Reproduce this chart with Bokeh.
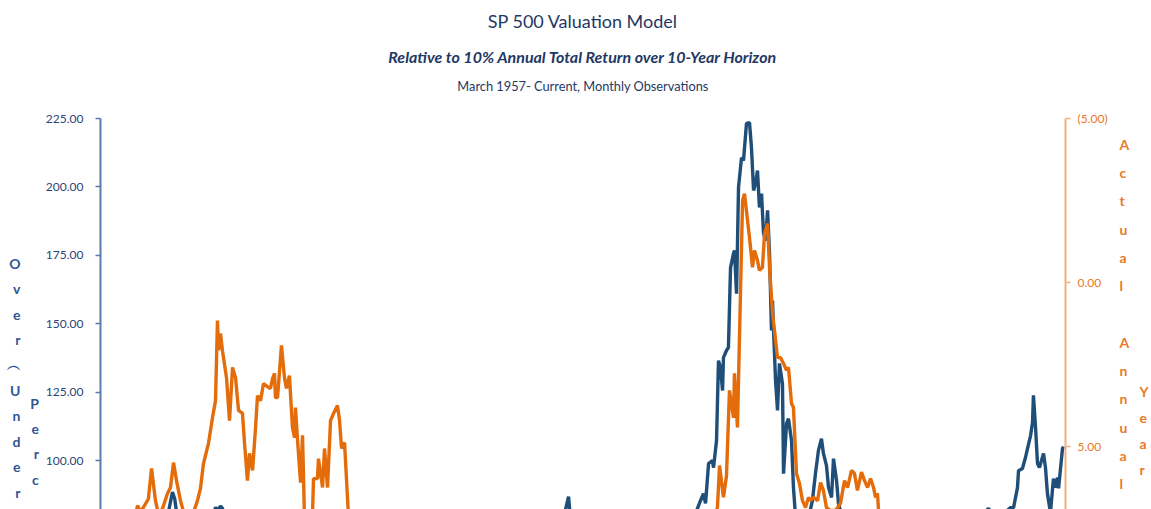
from bokeh.plotting import figure
from bokeh.models import (Range1d, LinearAxis, FixedTicker, Title,
                          CustomJSTickFormatter)
from bokeh.embed import file_html
from bokeh.resources import INLINE

# ---------------- data ----------------
# Over/(Under) valuation, percent  (left axis)
val_years = [1957.17, 1958.0, 1959.0, 1960.0, 1961.0, 1961.5, 1961.75, 1961.95, 1962.1, 1962.25,
             1962.5, 1963.0, 1964.0, 1964.7, 1964.81, 1964.9, 1965.14, 1965.27, 1965.5, 1966.5,
             1968.0, 1969.0, 1970.5, 1972.8, 1974.8, 1978.0, 1981.0, 1982.5, 1985.0, 1987.0,
             1987.8, 1988.26, 1988.5, 1990.0, 1992.0, 1994.0, 1995.5, 1996.5,
             1997.03, 1997.22, 1997.36, 1997.56, 1997.82, 1997.89, 1998.09, 1998.22, 1998.35, 1998.49,
             1998.55, 1998.75, 1998.88, 1999.02, 1999.22, 1999.28, 1999.42, 1999.55, 1999.75, 1999.88,
             2000.08, 2000.28, 2000.41, 2000.55, 2000.68, 2000.81, 2000.94, 2001.08, 2001.21, 2001.34,
             2001.48, 2001.61, 2001.74, 2001.81, 2001.87, 2002.01, 2002.14, 2002.27, 2002.47, 2002.54,
             2002.74, 2002.87, 2003.07, 2003.20, 2003.33, 2003.7, 2004.2, 2004.46, 2004.66, 2004.86,
             2005.06, 2005.19, 2005.39, 2005.53, 2005.73, 2005.86, 2006.06, 2006.19, 2006.5, 2007.5,
             2008.3, 2009.2, 2010.5, 2012.0, 2013.5, 2015.0, 2016.16, 2016.6, 2017.62, 2017.82,
             2018.08, 2018.15, 2018.41, 2018.61, 2018.75, 2018.95, 2019.08, 2019.14, 2019.28, 2019.41,
             2019.54, 2019.81, 2019.94, 2020.07, 2020.27, 2020.47, 2020.61, 2020.74, 2020.81, 2021.07,
             2021.14]
val_pct = [35, 25, 60, 55, 62, 76, 83, 88.5, 86, 80,
           45, 58, 72, 80, 83.0, 81.5, 83.3, 82.5, 78, 60,
           62, 55, 20, 35, -30, -20, -35, -40, 0, 60,
           76, 86.8, 72, 45, 55, 52, 65, 78,
           85.4, 87.9, 84.3, 98.9, 100.0, 97.4, 107.3, 136.5, 134.0, 125.6,
           137.6, 140.2, 141.3, 170.5, 175.7, 176.8, 161.0, 199.8, 210.7, 209.6,
           223.2, 223.5, 214.4, 198.7, 201.2, 206.0, 192.5, 197.6, 183.0, 180.4,
           191.4, 175.7, 147.5, 158.5, 148.6, 129.2, 118.3, 135.5, 128.1, 95.2,
           113.5, 115.3, 107.3, 90.1, 80, 76, 79, 85.4, 95.2, 103.7,
           108.0, 102.6, 98.2, 90.1, 86.5, 100.7, 92.7, 84.3, 78, 74,
           50, 5, 35, 40, 62, 76, 82.5, 78, 82.8, 82.8,
           90.1, 96.3, 97.1, 101.1, 104.4, 109.1, 113.9, 123.8, 112.1, 98.9,
           97.4, 102.6, 97.4, 87.9, 81.0, 93.4, 90.1, 93.8, 89.8, 104.4,
           105.1]

# Actual 10-year annual return, percent (right axis, inverted)
ret_years = [1957.17, 1958.3, 1959.3, 1959.63, 1959.83, 1960.35, 1960.56, 1960.82, 1961.02, 1961.29,
             1961.62, 1961.82, 1962.02, 1962.22, 1962.48, 1962.82, 1963.28, 1963.61, 1963.81, 1964.01,
             1964.34, 1964.61, 1964.81, 1964.94, 1965.01, 1965.14, 1965.27, 1965.54, 1965.74, 1965.94,
             1966.14, 1966.34, 1966.60, 1966.74, 1966.93, 1967.07, 1967.27, 1967.47, 1967.60, 1967.80,
             1968.00, 1968.33, 1968.46, 1968.60, 1968.73, 1968.79, 1968.93, 1969.19, 1969.39, 1969.52,
             1969.72, 1969.92, 1970.06, 1970.12, 1970.26, 1970.46, 1970.59, 1970.72, 1971.0, 1971.25,
             1971.32, 1971.58, 1971.65, 1971.92, 1972.05, 1972.25, 1972.45, 1972.65, 1972.91, 1973.05,
             1973.18, 1973.38, 1973.64, 1974.2, 1975.5, 1978.0, 1980.5, 1982.5, 1985.0, 1988.0,
             1990.5, 1993.0, 1995.0, 1996.5, 1997.8, 1998.15, 1998.29, 1998.55, 1998.75, 1998.95,
             1999.22, 1999.28, 1999.48, 1999.62, 1999.82, 1999.95, 2000.15, 2000.28, 2000.48, 2000.61,
             2000.81, 2000.94, 2001.14, 2001.28, 2001.48, 2001.61, 2001.81, 2001.94, 2002.14, 2002.34,
             2002.54, 2002.74, 2002.87, 2003.07, 2003.20, 2003.40, 2003.60, 2003.80, 2004.00, 2004.20,
             2004.33, 2004.53, 2004.80, 2005.00, 2005.19, 2005.39, 2005.66, 2005.99, 2006.32, 2006.59,
             2006.79, 2007.06, 2007.25, 2007.45, 2007.72, 2007.92, 2008.12, 2008.32, 2008.52, 2008.65,
             2008.78, 2008.85, 2009.4, 2010.2, 2011.1]
ret_pct = [11.5, 9.0, 7.5, 6.80, 7.0, 6.6, 5.67, 6.65, 7.05, 6.89,
           6.43, 6.25, 5.49, 6.04, 6.65, 7.2, 7.1, 6.65, 6.28, 5.52,
           4.91, 4.12, 3.60, 1.16, 2.07, 1.55, 2.07, 2.90, 4.21, 2.59,
           2.90, 3.90, 3.99, 4.91, 6.04, 5.21, 5.73, 4.42, 3.45, 3.60,
           3.08, 3.20, 3.23, 2.93, 2.77, 3.51, 3.51, 1.92, 2.90, 3.23,
           2.84, 4.42, 4.73, 3.81, 4.82, 6.10, 4.66, 7.2, 7.8, 7.1,
           5.98, 5.98, 5.37, 6.25, 5.06, 6.25, 4.21, 3.99, 3.75, 4.21,
           5.06, 4.88, 7.1, 9.5, 11.0, 14.5, 17.0, 18.5, 15.0, 17.5,
           18.5, 14.0, 11.5, 8.5, 7.3, 6.86, 5.58, 6.55, 5.9, 3.29,
           4.12, 2.77, 4.42, 1.55, -2.50, -2.71, -1.89, -1.37, -0.46, -0.98,
           -0.67, -0.37, -0.46, -1.49, -1.80, -0.46, 0.95, 1.46, 2.29, 2.29,
           2.47, 2.68, 2.59, 3.69, 3.81, 5.82, 6.13, 6.65, 6.86, 6.55,
           6.65, 6.55, 6.65, 6.10, 6.34, 6.86, 6.95, 6.95, 6.74, 6.04,
           6.25, 5.73, 5.82, 6.34, 5.78, 6.04, 6.25, 5.98, 6.25, 6.55,
           6.43, 6.95, 8.8, 9.5, 10.5]

left_ticks = [0, 25, 50, 75, 100, 125, 150, 175, 200, 225]
right_ticks = [-5, 0, 5, 10]

title = "SP 500 Valuation Model"
subtitle = "Relative to 10% Annual Total Return over 10-Year Horizon"
subtitle2 = "March 1957- Current, Monthly Observations"
left_title_1 = "Over\ufe35Under"
left_title_2 = "Perc"
right_title_1 = ["Actual", "Annual"]
right_title_2 = "Year"

# ---------------- layout ----------------
BLUE = "#1F4E79"
ORANGE = "#E46C0A"
NAVY = "#1F3864"
LBLUE = "#2F5597"
LORANGE = "#E8792A"
FONT = "Lato"
NB = "\u00a0"

X0, X1 = 1957.17, 2021.27          # frame left/right
Y0, Y1 = 82.1, 225.0               # frame bottom/top (left axis)
R0, R1 = 6.92, -5.0                # right axis, inverted

W, H = 1151, 509
ML, MT = 100, 118
FW = 965

p = figure(width=W, height=H, output_backend="svg", toolbar_location=None,
           x_range=Range1d(X0, X1), y_range=Range1d(Y0, Y1),
           min_border_left=ML, min_border_right=W - ML - FW,
           min_border_top=MT, min_border_bottom=0,
           x_axis_location=None, y_axis_location="left", title_location=None)
p.extra_y_ranges = {"ret": Range1d(R0, R1)}
p.outline_line_color = None
p.xgrid.visible = False
p.ygrid.visible = False
p.background_fill_color = "white"
p.border_fill_color = "white"

fmt_code = "return tick < 0 ? '(' + Math.abs(tick).toFixed(2) + ')' : tick.toFixed(2)"


def stack(chars, lead):
    # vertical (stacked) text, one character per line
    return "\n".join([NB] * lead + list(chars))


def bare_axis(ax):
    ax.ticker = FixedTicker(ticks=[])
    ax.axis_line_color = None
    ax.major_tick_out = 0
    ax.major_tick_in = 0
    ax.minor_tick_out = 0
    ax.minor_tick_in = 0
    ax.major_label_text_font_size = "0px"
    ax.major_label_standoff = 0


def style_label(ax, color, lh, standoff):
    ax.axis_label_orientation = "horizontal"
    ax.axis_label_text_font = FONT
    ax.axis_label_text_font_size = "14px"
    ax.axis_label_text_font_style = "bold"
    ax.axis_label_text_color = color
    ax.axis_label_text_line_height = lh
    ax.axis_label_standoff = standoff


# left axis
ya = p.yaxis[0]
ya.ticker = FixedTicker(ticks=left_ticks)
ya.formatter = CustomJSTickFormatter(code=fmt_code)
ya.axis_line_color = "#5A7AB0"
ya.axis_line_width = 2
ya.major_tick_line_color = "#5A7AB0"
ya.major_tick_line_width = 1.5
ya.major_tick_out = 5
ya.major_tick_in = 0
ya.minor_tick_line_color = None
ya.major_label_standoff = 12
ya.major_label_text_font = FONT
ya.major_label_text_font_size = "12px"
ya.major_label_text_color = "#2B4578"
ya.axis_label = stack(left_title_2, 10)
style_label(ya, LBLUE, 1.497, 4)

# outer left title column
ya2 = LinearAxis(axis_label=stack(left_title_1, 5))
bare_axis(ya2)
style_label(ya2, LBLUE, 1.497, 7)
p.add_layout(ya2, "left")

# right axis
ra = LinearAxis(y_range_name="ret")
ra.ticker = FixedTicker(ticks=right_ticks)
ra.formatter = CustomJSTickFormatter(code=fmt_code)
ra.axis_line_color = "#F5B07A"
ra.axis_line_width = 2
ra.major_tick_line_color = "#F5B07A"
ra.major_tick_line_width = 1.5
ra.major_tick_out = 5
ra.major_tick_in = 0
ra.minor_tick_line_color = None
ra.major_label_standoff = 7
ra.major_label_text_font = FONT
ra.major_label_text_font_size = "12px"
ra.major_label_text_color = LORANGE
ra.axis_label = "\n".join(list(right_title_1[0]) + [NB] + list(right_title_1[1]))
style_label(ra, LORANGE, 1.662, 9)
p.add_layout(ra, "right")

ra2 = LinearAxis(y_range_name="ret", axis_label=stack(right_title_2, 9))
bare_axis(ra2)
style_label(ra2, LORANGE, 1.527, 7)
p.add_layout(ra2, "right")

# data lines
p.line(val_years, val_pct, line_color=BLUE, line_width=3.4)
p.line(ret_years, ret_pct, line_color=ORANGE, line_width=3.4, y_range_name="ret")

# titles: third line as the label of a bare axis right above the frame
ta = LinearAxis(axis_label=subtitle2)
bare_axis(ta)
ta.axis_label_text_font = FONT
ta.axis_label_text_font_size = "12.8px"
ta.axis_label_text_font_style = "normal"
ta.axis_label_text_color = NAVY
ta.axis_label_standoff = 25
p.add_layout(ta, "above")
p.add_layout(Title(text=subtitle, align="center", text_font=FONT, text_font_size="16px",
                   text_font_style="bold italic", text_color=NAVY, standoff=17.5), "above")
p.add_layout(Title(text=title, align="center", text_font=FONT, text_font_size="18px",
                   text_font_style="normal", text_color=NAVY, standoff=6.9), "above")

open("out.html", "w").write(file_html(p, INLINE))
